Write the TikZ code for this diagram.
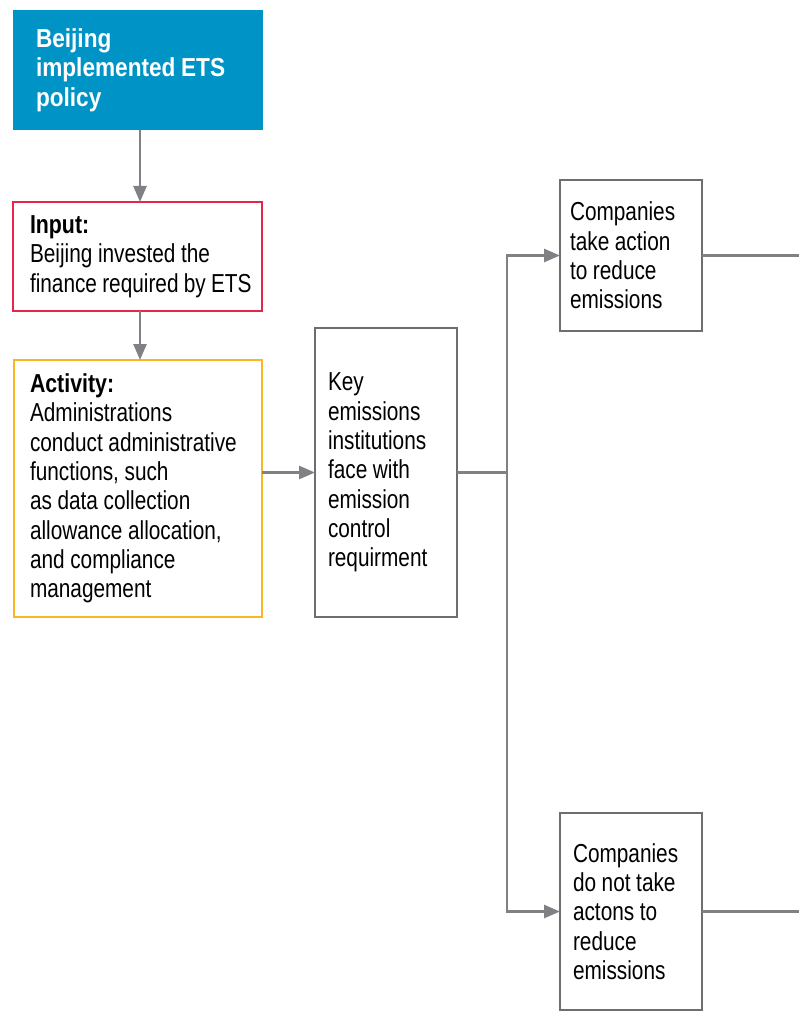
\documentclass[tikz,border=0pt]{standalone}
\usepackage{fontspec}
\setmainfont{Liberation Sans}[FakeStretch=0.8, BoldFeatures={FakeStretch=0.82}]
\newfontfamily\titlefont{Liberation Sans}[FakeStretch=0.87]
\usetikzlibrary{arrows.meta,calc}

\definecolor{etsblue}{HTML}{0093C6}
\definecolor{inred}{HTML}{E5264C}
\definecolor{actorange}{HTML}{FBB623}
\definecolor{boxgray}{HTML}{6D6E70}
\definecolor{linkgray}{HTML}{808184}

\tikzset{
  base/.style={rectangle, outer sep=0pt, inner ysep=0pt, align=left,
    font=\fontsize{26}{29.3}\selectfont, text=black, line width=2.8pt,
    % condensed face: narrower word spaces, and lines broken only at \\
    execute at begin node={\spaceskip=5.6pt plus 1pt minus 1pt
      \rightskip=0pt plus 2em minus 20pt\relax}},
  bluebox/.style={base, fill=etsblue, text=white,
    font=\titlefont\fontsize{26}{29.3}\selectfont\bfseries},
  redbox/.style={base, draw=inred},
  orangebox/.style={base, draw=actorange},
  graybox/.style={base, draw=boxgray},
  link/.style={draw=linkgray, line width=2.6pt},
  arr/.style={link, -{Triangle[length=16pt,width=13pt]}}
}

\begin{document}
\begin{tikzpicture}[x=1pt,y=-1pt]
  \useasboundingbox (0,0) rectangle (799,1011);

  % left column: policy, input, activity
  \node[bluebox, minimum width=250, minimum height=120, inner xsep=23, text width=204]
    (policy) at (138,70) {Beijing\\implemented ETS\\policy};
  \node[redbox, minimum width=249, minimum height=109, inner xsep=17, text width=215]
    (input) at (137.5,256.5) {\textbf{Input:}\\Beijing invested the\\finance required by ETS};
  \node[orangebox, minimum width=248, minimum height=257, inner xsep=16, text width=216]
    (activity) at (138,488.5) {\textbf{Activity:}\\Administrations\\conduct administrative\\functions, such\\as data collection\\allowance allocation,\\and compliance\\management};

  % middle: regulated institutions
  \node[graybox, minimum width=142, minimum height=289, inner xsep=13, text width=116]
    (key) at (386,472.5) {Key\\emissions\\institutions\\face with\\emission\\control\\requirment};

  % right column: the two outcomes
  \node[graybox, minimum width=142, minimum height=151, inner xsep=10, text width=122]
    (act) at (631,255.5) {Companies\\take action\\to reduce\\emissions};
  \node[graybox, minimum width=142, minimum height=197, inner xsep=13, text width=116]
    (noact) at (631,911.5) {Companies\\do not take\\actons to\\reduce\\emissions};

  \coordinate (split) at (507,472.5);
  \coordinate (outA) at (799,255.5);
  \coordinate (outB) at (799,911.5);

  % connectors
  \draw[arr] ($(policy.south)+(2,0)$) -- ($(input.north)+(2.5,0)$);
  \draw[arr] ($(input.south)+(2.5,0)$) -- ($(activity.north)+(2,0)$);
  \draw[arr] (activity.east |- key.west) -- (key.west);
  \draw[link] (key.east) -- (split);
  \draw[arr] (split) |- (act.west);
  \draw[arr] (split) |- (noact.west);
  \draw[link] (act.east) -- (outA);
  \draw[link] (noact.east) -- (outB);
\end{tikzpicture}
\end{document}
